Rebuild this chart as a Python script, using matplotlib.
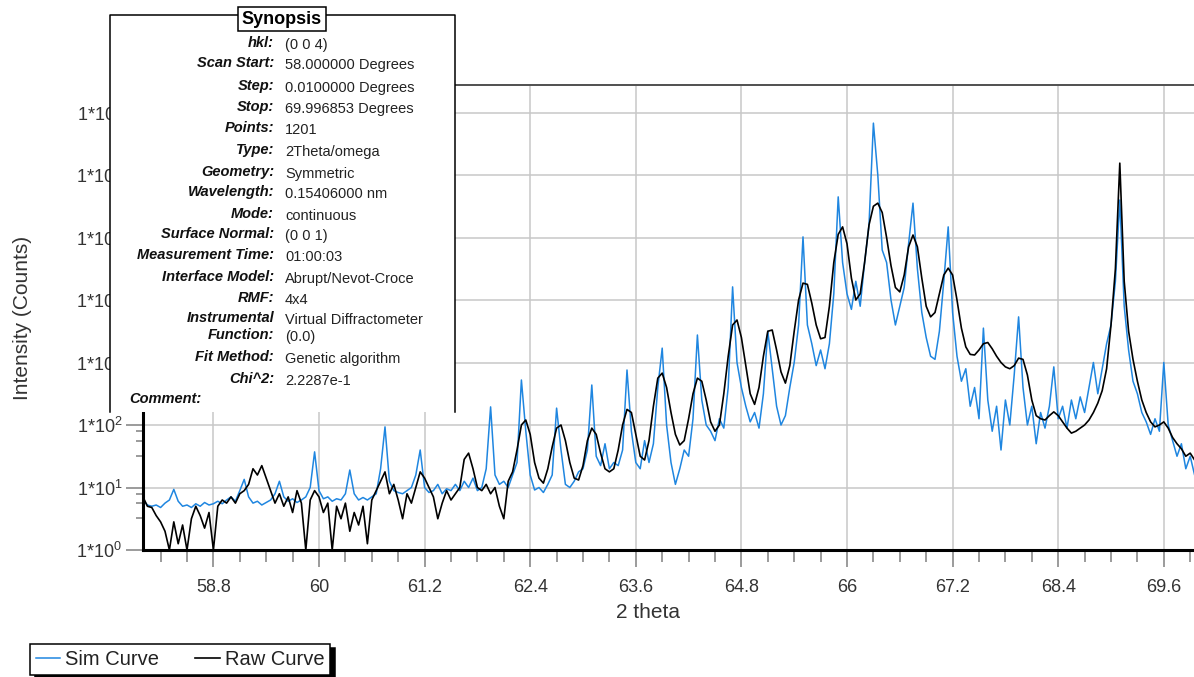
import numpy as np
import matplotlib
matplotlib.use('Agg')
import matplotlib.pyplot as plt
from matplotlib.ticker import MultipleLocator, LogLocator, FuncFormatter, NullFormatter
from matplotlib.patches import Rectangle
from matplotlib.lines import Line2D

two_theta = np.linspace(58.0, 70.0, 241)

sim_58 = [0.8, 0.72, 0.7, 0.72, 0.68, 0.75, 0.8, 0.97, 0.78, 0.7,
          0.72, 0.68, 0.74, 0.7, 0.76, 0.72, 0.74, 0.78, 0.74, 0.8,
          0.85, 0.78, 0.95, 1.13, 0.85, 0.75, 0.78, 0.72, 0.76, 0.8,
          0.9, 1.1, 0.85, 0.78, 0.82, 0.76, 0.8, 0.85, 1.0, 1.57,
          0.95, 0.82, 0.85, 0.78, 0.82, 0.8, 0.9, 1.28, 0.9, 0.8,
          0.84, 0.8, 0.85, 0.9, 1.3, 1.97, 1.1, 0.95, 0.92, 0.9]
sim_61 = [0.95, 1.0, 1.2, 1.6, 1.0, 0.92, 0.95, 1.05, 0.9, 0.98,
          0.95, 1.05, 0.95, 1.1, 1.0, 1.15, 0.95, 1.0, 1.3, 2.29,
          1.2, 1.05, 1.1, 1.0, 1.2, 1.4, 2.72, 1.9, 1.2, 0.96,
          1.0, 0.92, 1.05, 1.2, 2.27, 1.6, 1.05, 1.0, 1.1, 1.25,
          1.3, 1.6, 2.64, 1.5, 1.35, 1.7, 1.3, 1.4, 1.35, 1.6,
          2.88, 1.9, 1.4, 1.3, 1.75, 1.4, 1.7, 2.6, 3.23, 2.0]
sim_64 = [1.4, 1.05, 1.3, 1.6, 1.5, 2.1, 3.44, 2.4, 2.0, 1.9,
          1.75, 2.1, 1.95, 2.6, 4.21, 3.0, 2.6, 2.3, 2.05, 2.2,
          1.95, 2.5, 3.5, 2.9, 2.3, 2.0, 2.15, 2.6, 3.0, 3.6,
          5.01, 3.6, 3.3, 2.95, 3.2, 2.9, 3.3, 4.1, 5.65, 4.6,
          4.1, 3.85, 4.3, 3.9, 4.6, 5.2, 6.83, 6.0, 4.8, 4.6,
          4.0, 3.6, 3.9, 4.2, 4.9, 5.55, 4.5, 3.8, 3.4, 3.1]
sim_67 = [3.05, 3.5, 4.3, 5.17, 3.8, 3.1, 2.7, 2.9, 2.3, 2.6,
          2.1, 3.55, 2.4, 1.9, 2.3, 1.6, 2.4, 2.0, 2.8, 3.73,
          2.6, 2.0, 2.3, 1.7, 2.2, 1.95, 2.3, 2.93, 2.1, 2.3,
          1.95, 2.4, 2.1, 2.45, 2.2, 2.6, 3.0, 2.5, 2.9, 3.3,
          3.6, 4.3, 5.6, 3.9, 3.2, 2.7, 2.5, 2.2, 2.05, 1.85,
          2.1, 1.9, 3.0, 2.0, 1.75, 1.5, 1.7, 1.3, 1.5, 1.2,
          1.3]

raw_58 = [0.85, 0.7, 0.68, 0.55, 0.45, 0.3, 0.0, 0.45, 0.1, 0.4,
          0.0, 0.5, 0.7, 0.55, 0.35, 0.6, 0.0, 0.7, 0.8, 0.75,
          0.85, 0.75, 0.9, 0.95, 1.05, 1.3, 1.2, 1.35, 1.15, 0.95,
          0.75, 0.9, 0.7, 0.85, 0.6, 0.95, 0.75, 0.0, 0.8, 0.95,
          0.85, 0.6, 0.75, 0.0, 0.7, 0.5, 0.75, 0.3, 0.6, 0.4,
          0.7, 0.1, 0.8, 0.95, 1.1, 1.25, 0.9, 1.05, 0.8, 0.5]
raw_61 = [0.9, 0.75, 1.0, 1.25, 1.15, 1.0, 0.85, 0.5, 0.75, 0.95,
          0.8, 0.9, 1.0, 1.45, 1.55, 1.3, 1.0, 0.95, 1.05, 0.9,
          1.0, 0.7, 0.5, 1.1, 1.25, 1.6, 2.0, 2.08, 1.85, 1.4,
          1.15, 1.07, 1.3, 1.65, 1.95, 2.0, 1.75, 1.4, 1.15, 1.12,
          1.35, 1.75, 1.95, 1.85, 1.55, 1.3, 1.25, 1.3, 1.6, 2.0,
          2.25, 2.2, 1.85, 1.5, 1.44, 1.75, 2.3, 2.75, 2.83, 2.6]
raw_64 = [2.2, 1.85, 1.68, 1.75, 2.1, 2.5, 2.75, 2.7, 2.4, 2.05,
          1.9, 2.0, 2.5, 3.1, 3.6, 3.68, 3.4, 2.95, 2.5, 2.33,
          2.6, 3.1, 3.5, 3.52, 3.2, 2.85, 2.67, 2.95, 3.5, 4.0,
          4.27, 4.25, 3.95, 3.6, 3.38, 3.4, 3.9, 4.6, 5.05, 5.17,
          4.9, 4.35, 4.0, 4.1, 4.6, 5.2, 5.5, 5.55, 5.4, 5.0,
          4.55, 4.2, 4.13, 4.4, 4.85, 5.04, 4.85, 4.35, 3.9, 3.73]
raw_67 = [3.8, 4.1, 4.4, 4.51, 4.4, 4.0, 3.55, 3.25, 3.13, 3.12,
          3.2, 3.3, 3.32, 3.22, 3.1, 3.0, 2.93, 2.9, 2.95, 3.07,
          3.05, 2.8, 2.4, 2.15, 2.1, 2.08, 2.15, 2.21, 2.15, 2.05,
          1.95, 1.87, 1.9, 1.95, 2.0, 2.08, 2.2, 2.35, 2.55, 2.9,
          3.6, 4.5, 6.19, 4.3, 3.5, 3.05, 2.7, 2.4, 2.2, 2.05,
          1.97, 2.0, 2.05, 1.95, 1.8, 1.7, 1.62, 1.5, 1.55, 1.44,
          1.4]

syn_labels = ['hkl:', 'Scan Start:', 'Step:', 'Stop:', 'Points:', 'Type:',
              'Geometry:', 'Wavelength:', 'Mode:', 'Surface Normal:',
              'Measurement Time:', 'Interface Model:', 'RMF:', 'Instrumental',
              'Function:', 'Fit Method:', 'Chi^2:']
syn_values = ['(0 0 4)', '58.000000 Degrees', '0.0100000 Degrees',
              '69.996853 Degrees', '1201', '2Theta/omega', 'Symmetric',
              '0.15406000 nm', 'continuous', '(0 0 1)', '01:00:03',
              'Abrupt/Nevot-Croce', '4x4', 'Virtual Diffractometer', '(0.0)',
              'Genetic algorithm', '2.2287e-1']
syn_rows = [43, 63, 86, 107, 128, 150, 172, 192, 214, 234, 255, 277, 298,
            318, 335, 357, 379]

W, H = 1194, 677
plt.rcParams['font.family'] = ['Liberation Sans', 'DejaVu Sans']
plt.rcParams['mathtext.fontset'] = 'custom'
plt.rcParams['mathtext.rm'] = 'Liberation Sans'

fig = plt.figure(figsize=(W / 100, H / 100), dpi=100)
ax = fig.add_axes([143 / W, 1 - 550 / H, 1056 / W, 465 / H])

sim = 10 ** np.concatenate([sim_58, sim_61, sim_64, sim_67])
raw = 10 ** np.concatenate([raw_58, raw_61, raw_64, raw_67])
l_sim, = ax.plot(two_theta, sim, color='#1f86e0', lw=1.1, label='Sim Curve')
l_raw, = ax.plot(two_theta, raw, color='black', lw=1.2, label='Raw Curve')

ax.set_yscale('log')
ax.set_xlim(58, 70)
ax.set_ylim(1, 10 ** 7.44)

ax.xaxis.set_major_locator(MultipleLocator(1.2))
ax.xaxis.set_minor_locator(MultipleLocator(0.3))
ax.xaxis.set_major_formatter(FuncFormatter(lambda v, p: f'{v:.1f}'.rstrip('0').rstrip('.')))
ax.yaxis.set_major_locator(LogLocator(base=10, numticks=20))
ax.yaxis.set_minor_locator(LogLocator(base=10, subs=(3.2, 5.6, 7.9), numticks=20))
ax.yaxis.set_minor_formatter(NullFormatter())
ax.yaxis.set_major_formatter(FuncFormatter(lambda v, p: r'1*10$^{%d}$' % round(np.log10(v))))

ax.grid(True, which='major', color='#c8c8c8', lw=1.1)
ax.set_axisbelow(True)
for s in ['left', 'bottom']:
  ax.spines[s].set_linewidth(2.2)
  ax.spines[s].set_color('black')
ax.spines['top'].set_linewidth(1.4)
ax.spines['top'].set_color('#505050')
ax.spines['right'].set_visible(False)

ax.tick_params(which='both', direction='out', color='#808080', width=1.1,
               labelsize=13, labelcolor='#333333', top=False, right=False)
ax.tick_params(axis='x', which='major', length=12, pad=9)
ax.tick_params(axis='x', which='minor', length=8.5)
ax.tick_params(axis='y', which='major', length=12, pad=3)
ax.tick_params(axis='y', which='minor', length=5)

ax.set_xlabel('2 theta', fontsize=15, color='#333333')
ax.xaxis.set_label_coords(0.478, -0.115)
ax.set_ylabel('Intensity (Counts)', fontsize=15, color='#333333')
ax.yaxis.set_label_coords(-0.105, 0.5)

# synopsis panel over the top-left of the plot
fig.add_artist(Rectangle((110 / W, 1 - 412 / H), 345 / W, 397 / H, transform=fig.transFigure,
                         facecolor='white', edgecolor='none', zorder=5))
fig.add_artist(Line2D([110 / W, 110 / W, 455 / W, 455 / W], [1 - 412 / H, 1 - 15 / H, 1 - 15 / H, 1 - 412 / H],
                      transform=fig.transFigure, color='black', lw=1.1, zorder=6))
fig.text(282 / W, 1 - 19 / H, 'Synopsis', ha='center', va='center', fontsize=13, fontweight='bold',
         bbox=dict(boxstyle='square,pad=0.2', fc='white', ec='black', lw=1.1), zorder=7)
for lab, val, y in zip(syn_labels, syn_values, syn_rows):
  fig.text(274 / W, 1 - (y + 4) / H, lab, ha='right', va='baseline', fontsize=10.5,
           fontweight='bold', fontstyle='italic', color='#111111', zorder=7)
  fig.text(285 / W, 1 - (y + 6) / H, val, ha='left', va='baseline', fontsize=10.5,
           color='#222222', zorder=7)
fig.text(129 / W, 1 - 403 / H, 'Comment:', ha='left', va='baseline', fontsize=10.5,
         fontweight='bold', fontstyle='italic', color='#111111', zorder=7)

leg = fig.legend([l_sim, l_raw], ['Sim Curve', 'Raw Curve'], loc='upper left',
                 bbox_to_anchor=(30 / W, 1 - 644 / H), ncols=2, frameon=True, fancybox=False,
                 framealpha=1, edgecolor='black', fontsize=14.5, borderpad=0.3,
                 handlelength=1.2, handletextpad=0.25, columnspacing=1.8, borderaxespad=0,
                 shadow={'color': 'black', 'alpha': 1, 'ox': 3.5, 'oy': -3})
leg.get_frame().set_linewidth(1.1)
for t in leg.get_texts():
  t.set_color('#222222')

fig.savefig('out.png', dpi=100)
